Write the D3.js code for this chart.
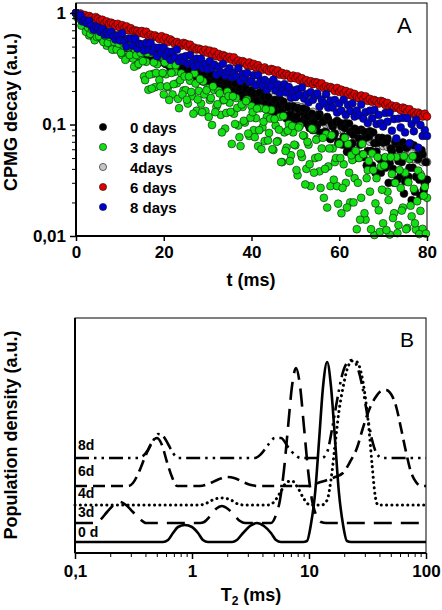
<!DOCTYPE html>
<html><head><meta charset="utf-8">
<script src="https://cdn.jsdelivr.net/npm/d3@7"></script>
<style>
body{margin:0;background:#fff}
svg{display:block}
text{font-family:"Liberation Sans",Arial,Helvetica,sans-serif}
</style>
</head><body>
<svg id="chart" width="442" height="610"></svg>
<script>
// ---------------- DATA ----------------
// Panel A: CPMG decays, echoes every 0.5 ms from 0 to 80 ms (161 echoes);
// the noisier 0-day and 3-day sets also have the intermediate echoes (0.25 + 0.5 i ms).
const echoStep = 0.5; // ms
const decay0days = [
1.00,.925,.95,.834,.871,.783,.83,.742,.706,.744,
.675,.719,.628,.678,.617,.659,.566,.608,.571,.537,
.593,.521,.553,.485,.553,.492,.502,.453,.516,.451,
.431,.483,.424,.473,.392,.432,.399,.435,.36,.405,
.411,.348,.375,.325,.389,.331,.358,.305,.352,.31,
.292,.339,.293,.336,.265,.301,.27,.306,.243,.284,
.289,.236,.267,.219,.25,.269,.219,.247,.204,.225,
.195,.243,.2,.224,.185,.206,.223,.167,.2,.174,
.202,.158,.182,.16,.194,.149,.166,.138,.171,.146,
.131,.166,.142,.166,.127,.145,.113,.146,.124,.145,
.113,.141,.103,.129,.112,.135,.099,.113,.089,.119,
.099,.124,.084,.109,.085,.111,.074,.096,.083,.108,
.07,.097,.078,.103,.061,.086,.068,.092,.052,.075,
.09,.051,.076,.058,.087,.043,.068,.057,.076,.037,
.069,.041,.075,.045,.058,.03,.067,.047,.035,.069,
.031,.063,.041,.021,.065,.034,.049,.023,.054,.029,
.032];
const decay0daysMid = [
.957,.962,.851,.896,.798,.819,.738,.792,.71,.669,
.722,.642,.706,.605,.648,.59,.65,.548,.589,.548,
.525,.575,.495,.543,.497,.542,.453,.506,.455,.506,
.478,.415,.477,.409,.43,.378,.431,.375,.431,.37,
.355,.401,.335,.375,.34,.378,.304,.345,.31,.349,
.333,.277,.326,.279,.323,.266,.287,.246,.29,.255,
.24,.282,.238,.264,.218,.248,.261,.208,.239,.208,
.237,.198,.234,.18,.21,.188,.173,.209,.172,.197,
.162,.188,.164,.192,.145,.177,.155,.177,.138,.156,
.165,.126,.15,.13,.16,.121,.143,.122,.108,.142,
.118,.137,.106,.139,.104,.118,.093,.125,.105,.09,
.118,.084,.106,.086,.117,.076,.102,.078,.105,.068,
.103,.066,.093,.057,.102,.067,.081,.05,.088,.066,
.054,.086,.043,.078,.058,.085,.037,.069,.049,.076,
.05,.07,.03,.061,.04,.07,.032,.06,.046,.024,
.062,.034,.067,.041,.025,.053,.032,.059,.026,.046];
const decay3days = [
1.00,.90,.91,.78,.84,.72,.63,.72,.61,.70,
.60,.68,.58,.66,.51,.59,.52,.47,.57,.50,
.57,.42,.50,.39,.53,.41,.39,.46,.34,.41,
.443,.27,.365,.205,.436,.284,.216,.347,.251,.405,
.186,.282,.216,.343,.186,.297,.234,.14,.287,.202,
.203,.154,.247,.179,.287,.133,.2,.154,.244,.132,
.211,.166,.099,.204,.144,.2,.122,.165,.092,.197,
.157,.067,.125,.173,.098,.064,.144,.104,.167,.079,
.146,.089,.114,.064,.14,.094,.071,.117,.084,.135,
.059,.098,.071,.117,.046,.085,.062,.101,.053,.085,
.065,.035,.097,.051,.079,.04,.066,.028,.09,.05,
.075,.038,.061,.022,.082,.042,.028,.061,.046,.028,
.067,.016,.044,.03,.067,.02,.048,.033,.0115,.05,
.022,.054,.014,.039,.025,.055,.0102,.033,.017,.042,
.013,.051,.025,.0103,.036,.016,.051,.0125,.027,.018,
.037,.0118,.049,.015,.0265,.0114,.0386,.0168,.0116,.0276,
.022];
const decay3daysMid = [
.92,.93,.77,.86,.68,.74,.65,.70,.57,.61,
.62,.68,.55,.62,.54,.61,.47,.55,.47,.53,
.44,.55,.38,.49,.42,.53,.33,.42,.35,.44,
.37,.25,.44,.28,.21,.36,.29,.41,.22,.29,
.36,.22,.166,.29,.23,.34,.17,.25,.186,.27,
.167,.27,.196,.125,.233,.168,.256,.129,.186,.203,
.117,.173,.22,.129,.152,.19,.085,.166,.127,.18,
.13,.179,.101,.141,.077,.151,.108,.162,.083,.115,
.129,.077,.139,.089,.06,.106,.137,.072,.113,.06,
.112,.07,.09,.046,.119,.058,.088,.047,.097,.066,
.039,.094,.055,.08,.029,.07,.044,.092,.037,.073,
.051,.027,.076,.04,.018,.061,.08,.032,.05,.0195,
.05,.027,.076,.018,.037,.053,.02,.058,.03,.014,
.067,.016,.033,.047,.0115,.039,.0196,.051,.0109,.026,
.043,.0113,.021,.051,.0145,.03,.0106,.039,.0169,.052,
.0115,.0304,.0187,.052,.013,.0205,.0104,.0343,.023,.0105];
const decay4days = [
1.00,.977,.903,.914,.83,.846,.796,.804,.73,.755,
.744,.684,.688,.708,.632,.658,.619,.645,.577,.602,
.566,.595,.557,.585,.514,.543,.522,.492,.529,.484,
.5,.462,.468,.483,.434,.453,.427,.446,.40,.418,
.395,.416,.389,.409,.36,.38,.366,.346,.372,.34,
.351,.325,.33,.34,.305,.319,.301,.314,.282,.295,
.278,.293,.274,.288,.254,.268,.258,.244,.261,.24,
.248,.229,.232,.255,.215,.224,.213,.222,.199,.208,
.196,.207,.193,.204,.179,.189,.182,.172,.185,.17,
.175,.162,.164,.169,.152,.174,.15,.156,.141,.146,
.139,.146,.137,.143,.126,.134,.128,.121,.13,.12,
.115,.106,.108,.112,.100,.104,.099,.102,.092,.096,
.090,.096,.089,.094,.083,.087,.084,.079,.086,.078,
.081,.074,.075,.078,.070,.073,.069,.076,.065,.068,
.064,.067,.063,.066,.059,.061,.060,.056,.060,.055,
.057,.053,.053,.055,.049,.051,.048,.036,.046,.047,
.046];
const decay6days = [
1.00,.97,.99,.93,.96,.91,.94,.91,.87,.92,
.89,.85,.87,.81,.84,.80,.82,.80,.76,.80,
.74,.78,.73,.76,.70,.73,.69,.70,.69,.66,
.69,.65,.68,.62,.64,.61,.63,.61,.585,.62,
.57,.60,.55,.58,.56,.53,.55,.53,.51,.54,
.53,.50,.52,.47,.49,.47,.48,.47,.45,.47,
.44,.46,.42,.45,.41,.43,.40,.42,.41,.39,
.405,.38,.40,.36,.375,.355,.37,.36,.34,.36,
.335,.35,.325,.34,.32,.31,.325,.31,.30,.315,
.31,.29,.305,.28,.29,.275,.285,.275,.26,.275,
.26,.27,.25,.26,.24,.25,.235,.245,.23,.24,
.238,.223,.234,.213,.221,.21,.217,.21,.20,.213,
.196,.205,.19,.2,.185,.194,.18,.188,.177,.172,
.182,.17,.179,.163,.17,.16,.166,.161,.154,.163,
.16,.15,.156,.143,.148,.141,.146,.141,.135,.142,
.139,.13,.137,.125,.129,.122,.128,.123,.118,.125,
.118];
const decay8days = [
1.00,.93,.96,.84,.86,.81,.85,.77,.71,.76,
.74,.68,.72,.64,.67,.64,.68,.62,.58,.63,
.57,.66,.56,.50,.59,.59,.51,.59,.48,.53,
.52,.46,.54,.47,.54,.45,.49,.41,.49,.44,
.49,.41,.45,.38,.45,.40,.47,.37,.40,.37,
.41,.35,.42,.36,.33,.39,.34,.39,.32,.35,
.315,.37,.32,.345,.28,.33,.295,.35,.275,.30,
.32,.265,.29,.27,.32,.245,.285,.26,.29,.24,
.247,.277,.225,.277,.243,.223,.251,.205,.239,.22,
.253,.203,.229,.191,.214,.23,.194,.217,.174,.202,
.176,.207,.184,.215,.171,.187,.158,.195,.167,.182,
.19,.145,.168,.155,.187,.142,.164,.142,.166,.128,
.154,.133,.167,.122,.15,.132,.154,.118,.133,.121,
.151,.113,.129,.103,.133,.114,.135,.101,.122,.103,
.096,.127,.106,.128,.088,.112,.075,.113,.094,.115,
.085,.114,.068,.101,.087,.110,.062,.099,.079,.089,
.079];
const legendLabels = ["0 days", "3 days", "4days", "6 days", "8 days"];
const timeTicks = [0, 20, 40, 60, 80];
const decayTicks = [0.01, 0.1, 1];
const decayTickLabels = ["0,01", "0,1", "1"];

// Panel B: T2 distributions, [T2 (ms), population density (a.u.)]
const dist0d = [[0.1,0],[0.565,0],[0.624,2],[0.688,9],[0.759,15],[0.871,17],[1.0,15],[1.125,9],[1.24,2],[1.37,0],
  [2.20,0],[2.42,2],[2.73,9],[3.13,16],[3.59,19],[4.12,16],[4.73,9],[5.22,2],[5.76,0],
  [8.89,0],[9.61,1],[10.4,18],[11.3,50],[12.2,102],[13.2,156],[14.3,180],[15.4,156],[16.7,102],[18.0,50],[19.5,18],[21.1,1],[22.9,0],[100,0]];
const dist3d = [[0.1,0],[0.148,0],[0.164,3],[0.188,11],[0.215,18],[0.242,21],[0.273,18],[0.313,11],[0.359,4],[0.404,0],
  [1.17,0],[1.27,1],[1.43,7],[1.60,14],[1.80,17],[2.03,14],[2.29,8],[2.57,2],[2.84,0],
  [4.73,0],[5.22,8],[5.65,23],[6.11,53],[6.62,96],[7.16,137],[7.74,155],[8.38,137],[9.06,96],[9.81,53],[10.6,23],[11.5,8],[12.7,1],[14.0,0],[100,0]];
const dist4d = [[0.1,0],[1.17,0],[1.34,2],[1.57,6],[1.84,7],[2.15,5],[2.47,1],[2.78,0],
  [4.46,0],[5.02,3],[5.65,12],[6.49,23],[7.16,24],[8.05,17],[9.06,6],[10.2,0],
  [12.9,0],[14.3,5],[15.4,25],[16.7,60],[18.0,93],[19.5,117],[21.1,135],[23.3,144],[25.7,143],[27.8,133],[30.1,110],[32.6,75],[34.6,40],[36.7,10],[38.9,0],[100,0]];
const dist6d = [[0.1,0],[0.284,0],[0.313,3],[0.352,14],[0.397,29],[0.446,42],[0.502,48],[0.554,41],[0.611,24],[0.675,9],[0.744,0],
  [1.17,0],[1.37,2],[1.64,6],[1.95,9],[2.29,8],[2.73,4],[3.19,1],[3.66,0],
  [10.2,0],[11.9,3],[14.3,6],[16.7,9],[19.5,13],[22.4,24],[25.7,38],[28.9,58],[32.6,76],[36.7,88],[41.3,95],[45.5,96],[50.2,92],[55.4,80],[61.1,58],[67.5,34],[74.4,14],[82.1,4],[90.6,0],[100,0]];
const dist8d = [[0.1,0],[0.346,0],[0.381,2],[0.421,8],[0.464,17],[0.512,24],[0.565,22],[0.624,14],[0.688,5],[0.759,0],
  [3.45,0],[3.89,4],[4.46,13],[5.12,20],[5.76,20],[6.62,11],[7.59,3],[8.54,0],
  [12.9,0],[14.3,6],[15.7,28],[17.4,58],[19.2,83],[21.1,95],[23.3,98],[25.7,92],[28.4,73],[31.3,45],[34.6,18],[38.1,4],[42.1,0],[100,0]];
const distLabels = ["0 d", "3d", "4d", "6d", "8d"];
const distOffsets = [11, 30, 48, 67, 95]; // vertical stacking offsets (a.u.)
const t2Ticks = [0.1, 1, 10, 100];
const t2TickLabels = ["0,1", "1", "10", "100"];

// ---------------- DRAW ----------------
const svg = d3.select("#chart");
const FONT = '"Liberation Sans",Arial,Helvetica,sans-serif';

function styleAxis(g, w) {
  g.select(".domain").remove();
  g.selectAll("line").attr("stroke", "#000").attr("stroke-width", w);
  g.selectAll("text").attr("font-family", FONT).attr("font-weight", "bold").attr("fill", "#000");
}
function minorTicks(dom) {
  const out = [];
  for (let e = Math.round(Math.log10(dom[0])); Math.pow(10, e) < dom[1]; e++)
    for (let m = 2; m <= 9; m++) { const v = m * Math.pow(10, e); if (v > dom[0] && v < dom[1]) out.push(v); }
  return out;
}

// ===== Panel A =====
const xA = d3.scaleLinear().domain([0, 80]).range([76, 427]);
const yA = d3.scaleLog().domain([0.01, 1.23]).range([236, 3]);

svg.append("rect").attr("x", 76).attr("y", 3).attr("width", 351).attr("height", 233)
  .attr("fill", "none").attr("stroke", "#000").attr("stroke-width", 1);

const COL = {d0: "#000000", d3: "#12e012", d4: "#c4c4c4", d6: "#e00000", d8: "#0000cc"};
const toPts = (vals, t0) => vals.map((v, i) => ({t: t0 + i * echoStep, v})).filter(d => d.v >= 0.01);
const layers = [
  {pts: toPts(decay4days, 0), fill: COL.d4},
  {pts: toPts(decay0days, 0).concat(toPts(decay0daysMid, echoStep / 2)), fill: COL.d0},
  {pts: toPts(decay3days, 0).concat(toPts(decay3daysMid, echoStep / 2)), fill: COL.d3},
  {pts: toPts(decay6days, 0), fill: COL.d6},
  {pts: toPts(decay8days, 0), fill: COL.d8}
];
const gPts = svg.append("g");
layers.forEach(s => {
  gPts.append("g").selectAll("circle").data(s.pts).join("circle")
    .attr("cx", d => xA(d.t)).attr("cy", d => yA(d.v)).attr("r", 3.9)
    .attr("fill", s.fill).attr("stroke", "#111").attr("stroke-width", 0.6);
});

// axes A
const gxA = svg.append("g").attr("transform", "translate(0,236)")
  .call(d3.axisBottom(xA).tickValues(timeTicks).tickSize(5).tickPadding(5).tickFormat(d => d));
styleAxis(gxA, 1.5);
gxA.selectAll("text").attr("font-size", 17);
const gyA = svg.append("g").attr("transform", "translate(76,0)")
  .call(d3.axisLeft(yA).tickValues(decayTicks).tickSize(6).tickPadding(4)
    .tickFormat((d, i) => decayTickLabels[i]));
styleAxis(gyA, 1.5);
gyA.selectAll("text").attr("font-size", 17);
const gyAm = svg.append("g").attr("transform", "translate(76,0)")
  .call(d3.axisLeft(yA).tickValues(minorTicks([0.01, 1.23])).tickSize(4).tickFormat(""));
styleAxis(gyAm, 1);
svg.append("line").attr("x1", 76).attr("x2", 76).attr("y1", 3).attr("y2", 236).attr("stroke", "#000").attr("stroke-width", 2);
svg.append("line").attr("x1", 76).attr("x2", 427).attr("y1", 236).attr("y2", 236).attr("stroke", "#000").attr("stroke-width", 2);

// legend A
const legColors = [COL.d0, COL.d3, COL.d4, COL.d6, COL.d8];
legendLabels.forEach((lab, i) => {
  const y = 127 + i * 20;
  svg.append("circle").attr("cx", 103).attr("cy", y).attr("r", 3.6)
    .attr("fill", legColors[i]).attr("stroke", "#111").attr("stroke-width", 0.6);
  svg.append("text").attr("x", 130).attr("y", y + 5.5).text(lab)
    .attr("font-size", 15).attr("font-weight", "bold");
});

svg.append("text").attr("x", 397).attr("y", 33).text("A").attr("font-size", 22);
svg.append("text").attr("x", 251).attr("y", 286).attr("text-anchor", "middle")
  .attr("font-size", 18).attr("font-weight", "bold").text("t (ms)");
svg.append("text").attr("transform", "translate(17,112) rotate(-90)").attr("text-anchor", "middle")
  .attr("font-size", 18).attr("font-weight", "bold").text("CPMG decay (a.u.)");

// ===== Panel B =====
const xB = d3.scaleLog().domain([0.1, 100]).range([75, 426]);
const yB = d3.scaleLinear().domain([0, 235]).range([553, 318]);

svg.append("rect").attr("x", 75).attr("y", 318).attr("width", 351).attr("height", 235)
  .attr("fill", "none").attr("stroke", "#000").attr("stroke-width", 1);

const dists = [
  {d: dist0d, dash: null, cap: "butt"},
  {d: dist3d, dash: "18,9", cap: "butt"},
  {d: dist4d, dash: "0.1,5.2", cap: "round"},
  {d: dist6d, dash: "12,6", cap: "butt"},
  {d: dist8d, dash: "14,5,2.5,5,2.5,5", cap: "butt"}
];
const line = d3.line().x(p => xB(p[0])).curve(d3.curveMonotoneX);
dists.forEach((s, i) => {
  svg.append("path")
    .attr("d", line.y(p => yB(p[1] + distOffsets[i]))(s.d))
    .attr("fill", "none").attr("stroke", "#000")
    .attr("stroke-width", s.cap === "round" ? 3 : 2.6)
    .attr("stroke-linecap", s.cap).attr("stroke-linejoin", "round")
    .attr("stroke-dasharray", s.dash);
});

const gxB = svg.append("g").attr("transform", "translate(0,553)")
  .call(d3.axisBottom(xB).tickValues(t2Ticks).tickSize(6).tickPadding(6)
    .tickFormat((d, i) => t2TickLabels[i]));
styleAxis(gxB, 1.5);
gxB.selectAll("text").attr("font-size", 17);
const gxBm = svg.append("g").attr("transform", "translate(0,553)")
  .call(d3.axisBottom(xB).tickValues(minorTicks([0.1, 100])).tickSize(4).tickFormat(""));
styleAxis(gxBm, 1);
svg.append("line").attr("x1", 75).attr("x2", 75).attr("y1", 318).attr("y2", 553).attr("stroke", "#000").attr("stroke-width", 2);
svg.append("line").attr("x1", 75).attr("x2", 426).attr("y1", 553).attr("y2", 553).attr("stroke", "#000").attr("stroke-width", 2);

const labelYs = [537, 517, 498, 476, 450];
distLabels.forEach((lab, i) => {
  svg.append("text").attr("x", 78).attr("y", labelYs[i]).text(lab)
    .attr("font-size", 14).attr("font-weight", "bold");
});

svg.append("text").attr("x", 400).attr("y", 347).text("B").attr("font-size", 21);
const tl = svg.append("text").attr("x", 251).attr("y", 601).attr("text-anchor", "middle")
  .attr("font-size", 18).attr("font-weight", "bold");
tl.append("tspan").text("T");
tl.append("tspan").attr("font-size", 12).attr("dy", 4).text("2");
tl.append("tspan").attr("dy", -4).text(" (ms)");
svg.append("text").attr("transform", "translate(17,435) rotate(-90)").attr("text-anchor", "middle")
  .attr("font-size", 18).attr("font-weight", "bold").text("Population density (a.u.)");
</script>
</body></html>
